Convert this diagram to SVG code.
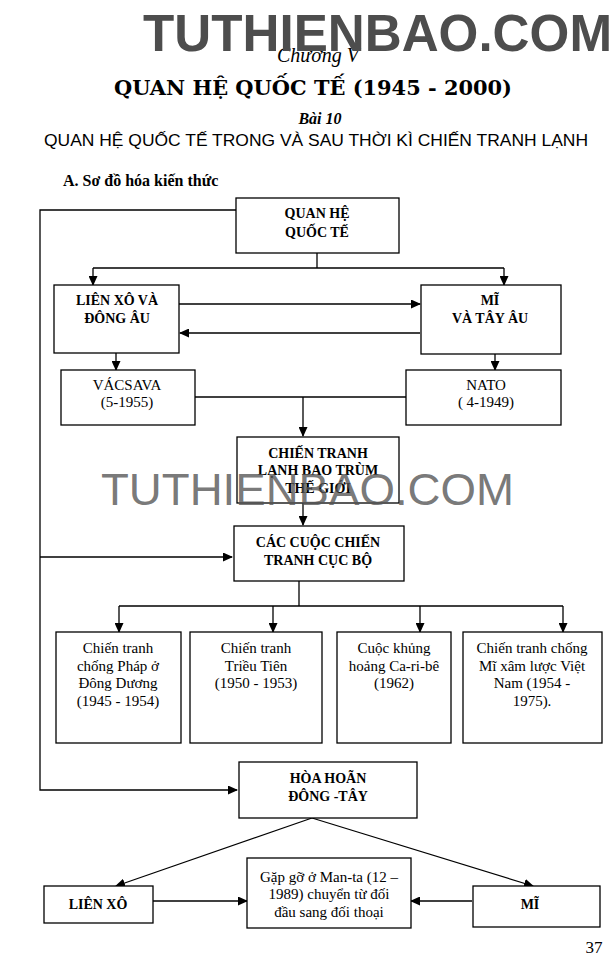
<svg xmlns="http://www.w3.org/2000/svg" width="615" height="980" viewBox="0 0 615 980">
<defs>
<marker id="ah" markerUnits="userSpaceOnUse" markerWidth="10" markerHeight="9" refX="9" refY="4.5" orient="auto">
<path d="M0,0 L10,4.5 L0,9 z" fill="#000"/>
</marker>
<style>
.box{fill:#fff;stroke:#000;stroke-width:1.3}
.ln{fill:none;stroke:#000;stroke-width:1.3}
.b{font-family:"Liberation Serif","DejaVu Serif",serif;font-weight:bold;font-size:14px;text-anchor:middle;fill:#000}
.r{font-family:"Liberation Serif","DejaVu Serif",serif;font-size:15px;text-anchor:middle;fill:#000}
</style>
</defs>
<rect width="615" height="980" fill="#fff"/>

<g id="header">
<text x="318" y="62" font-family="Liberation Serif,serif" font-style="italic" font-size="20" text-anchor="middle">Chương V</text>
<text x="143" y="51" font-family="Liberation Sans,Arial,sans-serif" font-weight="bold" font-size="51" fill="#4d4d4d" textLength="469" lengthAdjust="spacingAndGlyphs">TUTHIENBAO.COM</text>
<text x="114" y="95" font-family="DejaVu Serif,serif" font-weight="bold" font-size="20" textLength="398" lengthAdjust="spacingAndGlyphs">QUAN HỆ QUỐC TẾ (1945 - 2000)</text>
<text x="320" y="124" font-family="Liberation Serif,serif" font-style="italic" font-weight="bold" font-size="16" text-anchor="middle">Bài 10</text>
<text x="44" y="146" font-family="Liberation Sans,Arial,sans-serif" font-size="17" textLength="544" lengthAdjust="spacingAndGlyphs">QUAN HỆ QUỐC TẾ TRONG VÀ SAU THỜI KÌ CHIẾN TRANH LẠNH</text>
<text x="63" y="186" font-family="Liberation Serif,serif" font-weight="bold" font-size="16">A. Sơ đồ hóa kiến thức</text>
</g>

<g id="connectors">
<polyline class="ln" points="236,210 40,210 40,790 237,790" marker-end="url(#ah)"/>
<line class="ln" x1="40" y1="557" x2="232" y2="557" marker-end="url(#ah)"/>
<polyline class="ln" points="317,253 317,268"/>
<polyline class="ln" points="93,268 504,268"/>
<line class="ln" x1="93" y1="268" x2="93" y2="285" marker-end="url(#ah)"/>
<line class="ln" x1="504" y1="268" x2="504" y2="285" marker-end="url(#ah)"/>
<line class="ln" x1="179" y1="304" x2="420" y2="304" marker-end="url(#ah)"/>
<line class="ln" x1="420" y1="333" x2="180" y2="333" marker-end="url(#ah)"/>
<line class="ln" x1="116" y1="353" x2="116" y2="370" marker-end="url(#ah)"/>
<line class="ln" x1="495" y1="354" x2="495" y2="370" marker-end="url(#ah)"/>
<line class="ln" x1="195" y1="397" x2="406" y2="397"/>
<line class="ln" x1="303" y1="397" x2="303" y2="436" marker-end="url(#ah)"/>
<line class="ln" x1="303" y1="503" x2="303" y2="525" marker-end="url(#ah)"/>
<line class="ln" x1="299" y1="581" x2="299" y2="606"/>
<line class="ln" x1="119" y1="606" x2="563" y2="606"/>
<line class="ln" x1="119" y1="606" x2="119" y2="632" marker-end="url(#ah)"/>
<line class="ln" x1="273" y1="606" x2="273" y2="632" marker-end="url(#ah)"/>
<line class="ln" x1="420" y1="606" x2="420" y2="632" marker-end="url(#ah)"/>
<line class="ln" x1="563" y1="606" x2="563" y2="632" marker-end="url(#ah)"/>
<line class="ln" x1="312" y1="818" x2="116" y2="886" marker-end="url(#ah)"/>
<line class="ln" x1="312" y1="818" x2="533" y2="886" marker-end="url(#ah)"/>
<line class="ln" x1="153" y1="901" x2="247" y2="901" marker-end="url(#ah)"/>
<line class="ln" x1="472" y1="901" x2="411" y2="901" marker-end="url(#ah)"/>
</g>

<g id="quanhe">
<rect class="box" x="236" y="198" width="163" height="55"/>
<text class="b" x="317" y="218">QUAN HỆ</text>
<text class="b" x="317" y="237">QUỐC TẾ</text>
</g>
<g id="lienxo-dongau">
<rect class="box" x="54" y="285" width="125" height="68"/>
<text class="b" x="117" y="305">LIÊN XÔ VÀ</text>
<text class="b" x="117" y="323">ĐÔNG ÂU</text>
</g>
<g id="mi-tayau">
<rect class="box" x="421" y="285" width="140" height="69"/>
<text class="b" x="490" y="305">MĨ</text>
<text class="b" x="490" y="323">VÀ TÂY ÂU</text>
</g>
<g id="vacsava">
<rect class="box" x="61" y="370" width="134" height="55"/>
<text class="r" x="127" y="390">VÁCSAVA</text>
<text class="r" x="127" y="407">(5-1955)</text>
</g>
<g id="nato">
<rect class="box" x="406" y="370" width="155" height="55"/>
<text class="r" x="486" y="390">NATO</text>
<text class="r" x="486" y="407">( 4-1949)</text>
</g>
<g id="chientranhlanh">
<rect class="box" x="237" y="437" width="162" height="66"/>
<text class="b" x="318" y="458">CHIẾN TRANH</text>
<text class="b" x="318" y="475">LẠNH BAO TRÙM</text>
<text class="b" x="318" y="493">THẾ GIỚI</text>
</g>
<g id="cuocchientranh">
<rect class="box" x="234" y="526" width="170" height="55"/>
<text class="b" x="318" y="547" font-size="15">CÁC CUỘC CHIẾN</text>
<text class="b" x="318" y="565" font-size="15">TRANH CỤC BỘ</text>
</g>
<g id="dongduong">
<rect class="box" x="56" y="632" width="125" height="111"/>
<text class="r" x="118" y="653">Chiến tranh</text>
<text class="r" x="118" y="671">chống Pháp ở</text>
<text class="r" x="118" y="688">Đông Dương</text>
<text class="r" x="118" y="706">(1945 - 1954)</text>
</g>
<g id="trieutien">
<rect class="box" x="190" y="632" width="132" height="111"/>
<text class="r" x="256" y="653">Chiến tranh</text>
<text class="r" x="256" y="671">Triều Tiên</text>
<text class="r" x="256" y="688">(1950 - 1953)</text>
</g>
<g id="caribe">
<rect class="box" x="337" y="632" width="114" height="111"/>
<text class="r" x="394" y="653">Cuộc khủng</text>
<text class="r" x="394" y="671">hoảng Ca-ri-bê</text>
<text class="r" x="394" y="688">(1962)</text>
</g>
<g id="vietnam">
<rect class="box" x="463" y="632" width="139" height="111"/>
<text class="r" x="532" y="653">Chiến tranh chống</text>
<text class="r" x="532" y="671">Mĩ xâm lược Việt</text>
<text class="r" x="532" y="688">Nam (1954 -</text>
<text class="r" x="532" y="706">1975).</text>
</g>
<g id="hoahoan">
<rect class="box" x="239" y="762" width="178" height="56"/>
<text class="b" x="328" y="783">HÒA HOÃN</text>
<text class="b" x="328" y="801">ĐÔNG -TÂY</text>
</g>
<g id="lienxo">
<rect class="box" x="44" y="886" width="109" height="37"/>
<text class="b" x="98" y="909">LIÊN XÔ</text>
</g>
<g id="manta">
<rect class="box" x="247" y="858" width="164" height="70"/>
<text class="r" x="329" y="882" font-size="14">Gặp gỡ ở Man-ta (12 –</text>
<text class="r" x="329" y="899" font-size="14">1989) chuyển từ đối</text>
<text class="r" x="329" y="917" font-size="14">đầu sang đối thoại</text>
</g>
<g id="mi">
<rect class="box" x="473" y="886" width="127" height="41"/>
<text class="b" x="530" y="909">MĨ</text>
</g>

<text x="594" y="953" font-family="Liberation Serif,serif" font-size="17" text-anchor="middle">37</text>
<text x="101" y="505" font-family="Liberation Sans,Arial,sans-serif" font-size="45" fill="#555" fill-opacity="0.8" textLength="413" lengthAdjust="spacingAndGlyphs">TUTHIENBAO.COM</text>
</svg>
